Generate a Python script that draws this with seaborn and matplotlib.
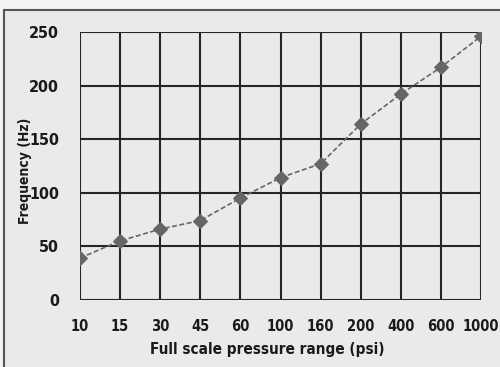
import matplotlib
matplotlib.use("Agg")
import matplotlib.pyplot as plt
import seaborn as sns
import pandas as pd
from matplotlib.patches import Rectangle

pressure_range = ["10", "15", "30", "45", "60", "100", "160", "200", "400", "600", "1000"]
frequency_hz = [39, 55, 66, 74, 95, 114, 127, 164, 192, 217, 246]
y_ticks = [0, 50, 100, 150, 200, 250]

df = pd.DataFrame({"pressure": pressure_range, "frequency": frequency_hz})

sns.set_style("white")
plt.rcParams['font.family'] = ['DejaVu Sans']
plt.rcParams['font.weight'] = 'bold'
plt.rcParams['font.stretch'] = 'condensed'

bg = "#eaeaec"
ink = "#1a1a1a"
fig = plt.figure(figsize=(5.0, 3.67), dpi=100, facecolor="#f3f3f3")
# outer frame around the chart
frame = Rectangle((4 / 500, -0.05), 1.1, 1 - 10 / 367 + 0.05,
                  transform=fig.transFigure, facecolor=bg,
                  edgecolor="#555555", linewidth=1.5, zorder=-5)
fig.patches.append(frame)
ax = fig.add_axes([0.16, 0.183, 0.802, 0.730])
ax.set_facecolor(bg)

sns.lineplot(data=df, x="pressure", y="frequency", ax=ax, sort=False,
             color="#666666", linewidth=1.2, linestyle=(0, (3, 1.5)),
             marker="D", markersize=7, markeredgecolor="#666666", zorder=3)

ax.set_xlim(0, len(pressure_range) - 1)
ax.set_ylim(0, 250)
ax.set_yticks(y_ticks)
ax.grid(True, color="#262626", linewidth=1.5)
for s in ax.spines.values():
    s.set_visible(False)
ax.tick_params(axis="both", length=3, width=1.2, color="#262626",
               labelcolor=ink)
ax.tick_params(axis="y", labelsize=11.5, pad=12)
ax.tick_params(axis="x", labelsize=10.5, pad=11)
for lab in ax.get_xticklabels() + ax.get_yticklabels():
    lab.set_fontweight("bold")

ax.set_xlabel("Full scale pressure range (psi)", fontsize=11, fontweight="bold",
              color=ink)
ax.set_ylabel("Frequency (Hz)", fontsize=10, fontweight="bold", color=ink)
ax.xaxis.set_label_coords((267 - 80) / 401, -(350 - 300) / 268)
ax.yaxis.set_label_coords(-(80 - 25) / 401, (300 - 171) / 268)
ax.xaxis.label.set_va("center")
ax.yaxis.label.set_va("center")

fig.savefig("out.png", dpi=100, facecolor=fig.get_facecolor())
